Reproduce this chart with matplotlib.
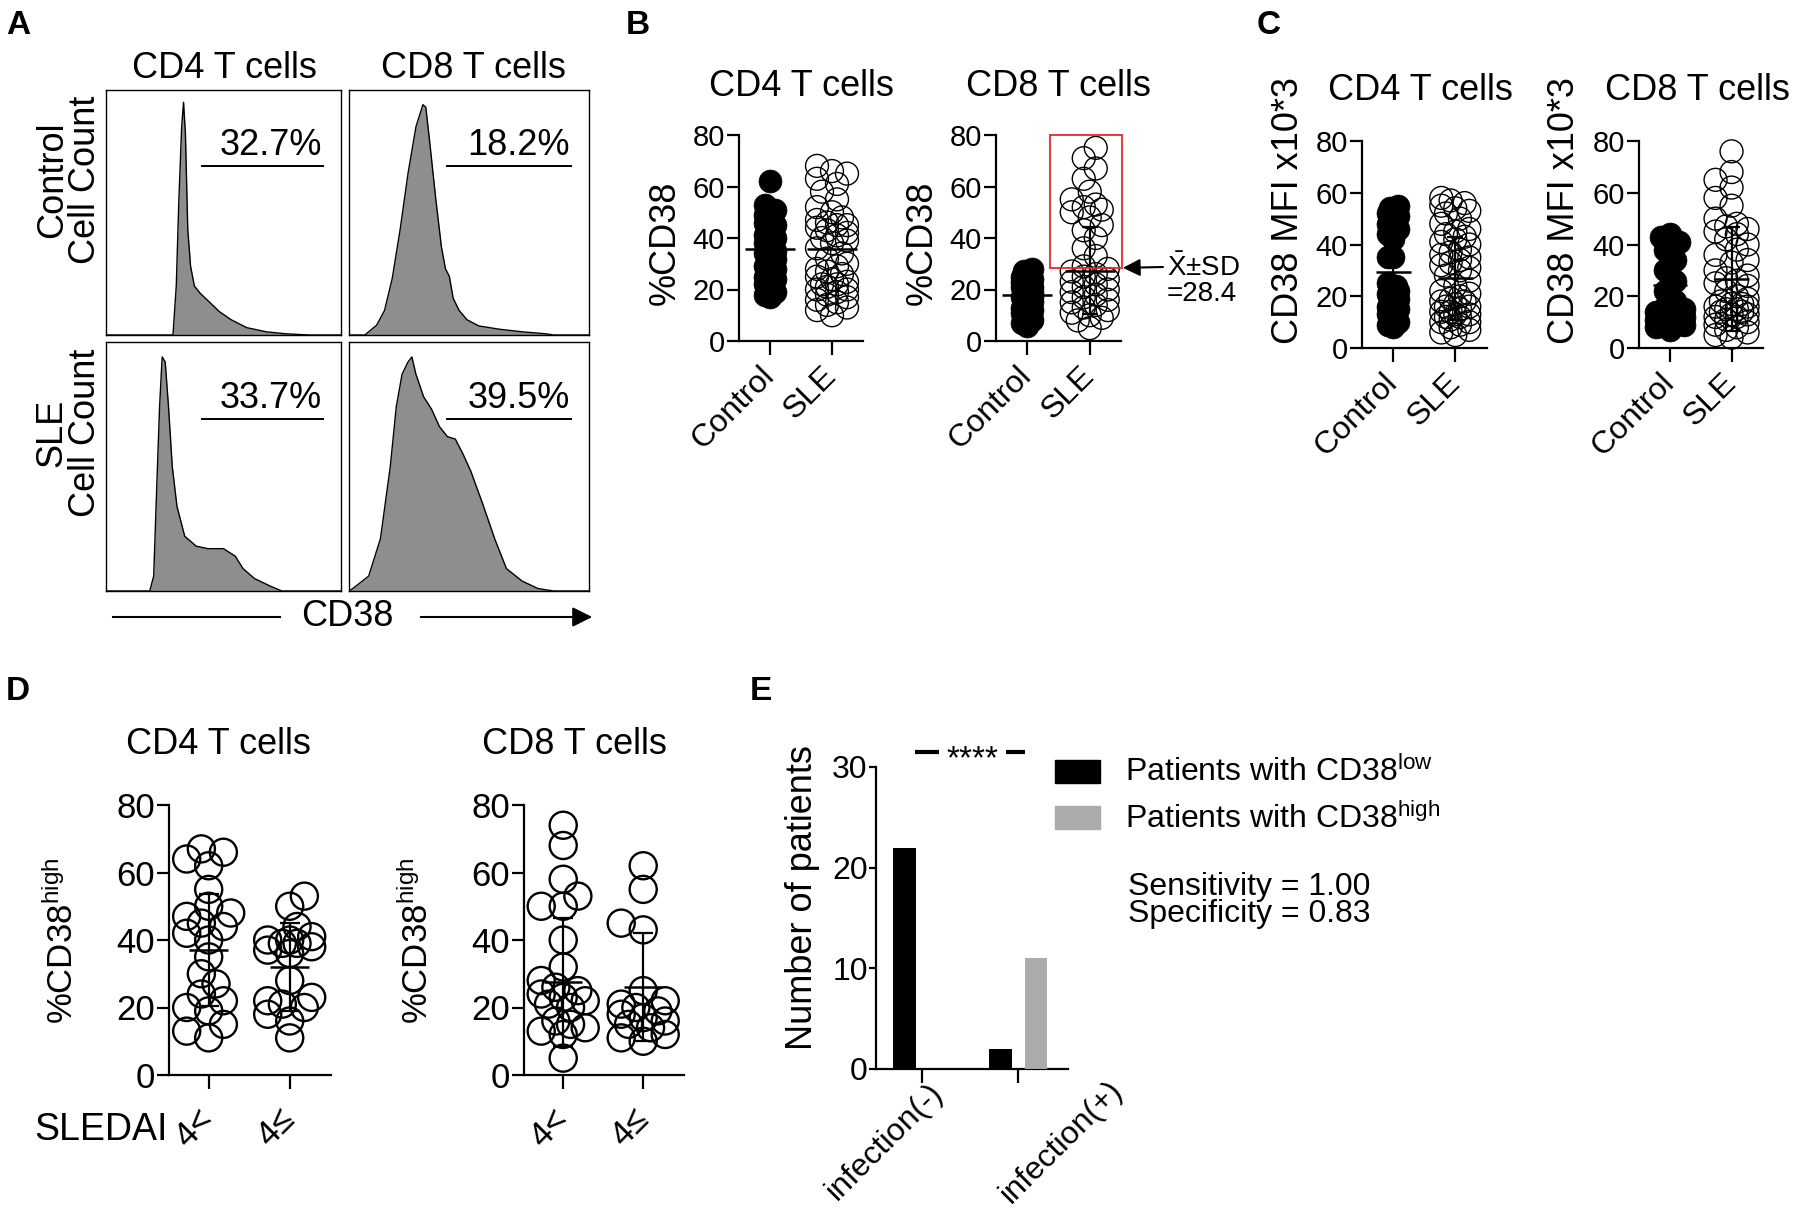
import numpy as np
import matplotlib
matplotlib.use("Agg")
import matplotlib.pyplot as plt
from matplotlib import font_manager
from matplotlib.patches import Rectangle, FancyArrowPatch
from matplotlib.lines import Line2D

installed = {f.name for f in font_manager.fontManager.ttflist}
SANS = "Liberation Sans" if "Liberation Sans" in installed else "DejaVu Sans"
plt.rcParams["font.family"] = [SANS, "DejaVu Sans"]
plt.rcParams["mathtext.fontset"] = "custom"
plt.rcParams["mathtext.rm"] = SANS
plt.rcParams["mathtext.it"] = SANS + ":italic"
plt.rcParams["mathtext.bf"] = SANS + ":bold"

W, H = 1800, 1223

# ---------------- data ----------------
# A: CD38 histograms (channel 0-100, relative cell count)
cd4_ctrl_ch = [0, 28.5, 29.9, 31.0, 32.2, 33.0, 33.8, 34.8, 36.0, 37.6, 40.1, 43.4, 48.3, 53.3, 59.9, 68.2, 76.4, 86.3, 100]
cd4_ctrl_cnt = [0, 0, 0.20, 0.55, 0.85, 0.95, 0.82, 0.43, 0.28, 0.20, 0.17, 0.14, 0.095, 0.062, 0.03, 0.013, 0.005, 0, 0]
cd8_ctrl_ch = [0, 6.6, 11.5, 14.8, 18.0, 21.3, 24.6, 27.9, 30.8, 32.0, 33.6, 36.1, 38.5, 40.2, 41.8, 43.4, 45.9, 49.2, 54.1, 62.3, 72.1, 82.0, 85.2, 100]
cd8_ctrl_cnt = [0, 0, 0.04, 0.10, 0.23, 0.43, 0.66, 0.85, 0.94, 0.93, 0.79, 0.56, 0.36, 0.27, 0.24, 0.15, 0.10, 0.062, 0.037, 0.024, 0.013, 0.005, 0, 0]
cd4_sle_ch = [0, 18.6, 20.3, 21.6, 22.8, 23.9, 25.2, 26.6, 28.2, 30.2, 33.5, 38.4, 43.4, 50.0, 55.0, 58.3, 63.2, 69.8, 74.8, 100]
cd4_sle_cnt = [0, 0, 0.06, 0.42, 0.74, 0.94, 0.92, 0.74, 0.50, 0.34, 0.22, 0.18, 0.17, 0.17, 0.14, 0.09, 0.05, 0.02, 0, 0]
cd8_sle_ch = [0, 1.6, 8.2, 13.1, 17.2, 19.7, 22.1, 24.6, 26.2, 27.9, 31.1, 34.4, 37.7, 41.0, 44.3, 47.5, 50.8, 55.7, 60.7, 65.6, 72.1, 78.7, 85.2, 100]
cd8_sle_cnt = [0, 0.01, 0.06, 0.21, 0.50, 0.74, 0.87, 0.92, 0.94, 0.87, 0.78, 0.73, 0.66, 0.62, 0.61, 0.55, 0.48, 0.35, 0.21, 0.09, 0.04, 0.01, 0, 0]
hist_pct = ["32.7%", "18.2%", "33.7%", "39.5%"]
gate = [41, 92.5]

groups = ["Control", "SLE"]

# B: %CD38
b_cd4_control = [62, 53, 51, 49, 48, 46, 45, 43, 42, 41, 40, 39, 38, 37, 36, 35, 34, 33, 32, 31, 30, 29, 28, 28, 27, 26, 25, 24, 23, 22, 21, 20, 19, 18, 17]
b_cd4_sle = [68, 66, 65, 63, 61, 58, 55, 52, 50, 48, 47, 46, 45, 45, 44, 43, 42, 41, 40, 39, 38, 36, 34, 32, 30, 29, 28, 27, 26, 25, 24, 23, 22, 22, 21, 20, 20, 19, 18, 17, 16, 15, 14, 13, 12, 10]
b_cd8_control = [28, 27, 26, 25, 24, 24, 23, 22, 21, 21, 20, 19, 19, 18, 18, 17, 17, 16, 15, 15, 14, 13, 12, 12, 11, 10, 9, 8, 7, 6]
b_cd8_sle = [75, 71, 67, 63, 58, 55, 53, 52, 51, 50, 48, 45, 43, 40, 36, 33, 29, 28, 27, 26, 25, 24, 23, 22, 21, 20, 19, 18, 17, 16, 15, 14, 13, 12, 11, 10, 9, 8, 5]
b_cd4_mean = [35.7, 35.7]
b_cd8_mean = [17.9, 27.3]
b_cd8_sd = [0, 17]
b_cutoff = 28.4

# C: CD38 MFI
c_cd4_control = [55, 54, 53, 52, 51, 50, 49, 48, 46, 44, 42, 35, 35, 25, 24, 23, 22, 21, 20, 19, 18, 17, 16, 15, 14, 13, 12, 11, 10, 9, 8]
c_cd4_sle = [58, 57, 56, 55, 54, 53, 52, 50, 48, 46, 45, 44, 43, 42, 41, 40, 38, 37, 36, 35, 34, 33, 32, 31, 30, 28, 26, 24, 22, 21, 20, 19, 18, 18, 17, 16, 16, 15, 14, 14, 13, 13, 12, 12, 11, 10, 10, 9, 8, 7, 6, 5]
c_cd8_control = [44, 43, 41, 38, 34, 30, 26, 22, 18, 16, 15, 14, 14, 13, 13, 12, 12, 12, 11, 11, 10, 9, 8, 7]
c_cd8_sle = [76, 68, 65, 62, 58, 55, 50, 48, 47, 46, 45, 44, 42, 40, 38, 36, 34, 33, 30, 28, 27, 26, 25, 24, 22, 20, 19, 18, 17, 17, 16, 16, 15, 15, 14, 14, 13, 13, 12, 12, 11, 10, 9, 8, 7, 6, 5, 4]
c_cd4_mean = [29.4, 27.0]
c_cd4_sd = [9.6, 16]
c_cd8_mean = [24.5, 26.7]
c_cd8_sd = [11, 20]

# D: %CD38high by SLEDAI
sledai_labels = ["4<", "4\u2264"]
d_cd4_low = [67, 66, 64, 62, 55, 50, 48, 47, 45, 44, 42, 40, 35, 30, 27, 24, 22, 20, 19, 15, 13, 11]
d_cd4_high = [53, 50, 44, 41, 40, 40, 39, 39, 38, 37, 36, 28, 23, 22, 21, 20, 18, 16, 11]
d_cd8_low = [74, 68, 58, 53, 50, 50, 40, 32, 28, 26, 25, 24, 23, 22, 21, 20, 16, 15, 14, 13, 12, 5]
d_cd8_high = [62, 55, 45, 43, 25, 22, 21, 20, 19, 18, 17, 16, 15, 14, 12, 11, 10]
d_cd4_mean = [37.0, 32.0]
d_cd4_sd = [16.7, 13.0]
d_cd8_mean = [27.6, 26.2]
d_cd8_sd = [18.9, 16.0]

# E: infection vs CD38 status
infection_labels = ["infection(-)", "infection(+)"]
cd38_low_counts = [22, 2]
cd38_high_counts = [0, 11]

fig = plt.figure(figsize=(W / 100, H / 100), dpi=100)


def add_ax(x0, y0, x1, y1):
    return fig.add_axes([x0 / W, 1 - y1 / H, (x1 - x0) / W, (y1 - y0) / H])


def ftext(x, y, s, **kw):
    return fig.text(x / W, 1 - y / H, s, **kw)


def swarm_x(vals, center, ppx, ppy, diam, maxw):
    vals = np.asarray(vals, dtype=float)
    cands = np.linspace(-maxw, maxw, 7)
    cands = cands[np.argsort(np.abs(cands), kind="stable")]
    px, py = [], []
    out = np.empty(len(vals))
    for i in np.argsort(vals, kind="stable"):
        y = vals[i] * ppy
        best, best_d = 0.0, -1.0
        for c in cands:
            d = np.min(np.hypot(np.array(px) - c, np.array(py) - y)) if px else np.inf
            if d >= 0.6 * diam:
                best = c
                break
            if d > best_d:
                best, best_d = c, d
        px.append(best)
        py.append(y)
        out[i] = center + best / ppx
    return out


def dot_axes(rect, xlim, ylim, yticks, ysize, ylen=9, xpad=3):
    ax = add_ax(*rect)
    ax.set_xlim(*xlim)
    ax.set_ylim(*ylim)
    ax.spines[["top", "right"]].set_visible(False)
    ax.spines[["left", "bottom"]].set_linewidth(1.6)
    ax.tick_params(direction="out", width=1.6, color="black")
    ax.tick_params(axis="y", length=ylen, pad=1, labelsize=ysize)
    ax.tick_params(axis="x", length=10, pad=xpad)
    ax.set_yticks(yticks)
    return ax


def dot_groups(ax, data, filled, means, sds, diam_pt, lw, maxw, half, cap):
    pos = ax.get_position()
    x0, x1 = ax.get_xlim()
    y0, y1 = ax.get_ylim()
    ppx = pos.width * W / (x1 - x0)
    ppy = pos.height * H / (y1 - y0)
    dpx = diam_pt * 100 / 72
    for i, vals in enumerate(data):
        xs = swarm_x(vals, i, ppx, ppy, dpx, maxw[i])
        fc = "black" if filled[i] else "none"
        ax.scatter(xs, vals, s=diam_pt ** 2, facecolors=fc, edgecolors="black",
                   linewidths=lw if not filled[i] else 0.5, clip_on=False, zorder=3)
        ax.plot([i - half, i + half], [means[i]] * 2, color="black", lw=1.8, zorder=4,
                solid_capstyle="butt")
        if sds is not None and sds[i] > 0:
            ax.errorbar([i], [means[i]], yerr=[sds[i]], fmt="none", ecolor="black",
                        elinewidth=1.6, capsize=cap, capthick=1.6, zorder=4)


# ---------------- panel A ----------------
ftext(6, 34, "A", fontsize=24, fontweight="bold", va="baseline")
ftext(224, 68, "CD4 T cells", fontsize=26, ha="center", va="center")
ftext(473, 68, "CD8 T cells", fontsize=26, ha="center", va="center")
ftext(69, 180, "Control\nCell Count", fontsize=26, rotation=90, ha="center", va="center",
      linespacing=0.95)
ftext(69, 433, "SLE\nCell Count", fontsize=26, rotation=90, ha="center", va="center",
      linespacing=0.95)

hists = [
    (cd4_ctrl_ch, cd4_ctrl_cnt, (106, 90, 341, 335)),
    (cd8_ctrl_ch, cd8_ctrl_cnt, (349, 90, 589, 335)),
    (cd4_sle_ch, cd4_sle_cnt, (106, 342, 341, 591)),
    (cd8_sle_ch, cd8_sle_cnt, (349, 342, 589, 591)),
]
for (ch, cnt, rect), pct in zip(hists, hist_pct):
    ax = add_ax(*rect)
    ax.fill_between(ch, cnt, color="#8e8e8e", lw=0)
    ax.plot(ch, cnt, color="black", lw=1.0)
    ax.set_xlim(0, 100)
    ax.set_ylim(0, 1)
    ax.set_xticks([])
    ax.set_yticks([])
    for sp in ax.spines.values():
        sp.set_linewidth(1.0)
    ax.plot(gate, [0.69, 0.69], color="black", lw=1.4)
    ax.text(gate[1] - 0.5, 0.775, pct, fontsize=26, ha="right", va="center")

fig.add_artist(Line2D([113 / W, 280 / W], [1 - 617 / H] * 2, color="black", lw=1.5))
fig.add_artist(FancyArrowPatch((418 / W, 1 - 617 / H), (595 / W, 1 - 617 / H),
                               transform=fig.transFigure, arrowstyle="-|>",
                               mutation_scale=30, color="black", lw=1.5))
ftext(347, 617, "CD38", fontsize=26, ha="center", va="center")

# ---------------- panel B ----------------
ftext(626, 34, "B", fontsize=24, fontweight="bold", va="baseline")
b_axes = [(739, 135, 863, 341), (996, 135, 1121, 341)]
b_data = [[b_cd4_control, b_cd4_sle], [b_cd8_control, b_cd8_sle]]
b_means = [b_cd4_mean, b_cd8_mean]
b_sds = [None, b_cd8_sd]
b_maxw = [[5, 15], [5, 18]]
for k, (rect, title) in enumerate(zip(b_axes, ["CD4 T cells", "CD8 T cells"])):
    ax = dot_axes(rect, (-0.5, 1.5), (0, 80), [0, 20, 40, 60, 80], 21, xpad=12)
    dot_groups(ax, b_data[k], [True, False], b_means[k], b_sds[k], 16.5, 1.0, b_maxw[k], 0.4, 6)
    ax.set_xticks([0, 1], labels=groups, rotation=45, ha="right", va="center",
                  rotation_mode="anchor", fontsize=23)
    cx = (rect[0] + rect[2]) / 2
    ftext(cx, 86, title, fontsize=26, ha="center", va="center")
    ftext(rect[0] - 74, 243, "%CD38", fontsize=26, rotation=90, ha="center", va="center")
    if k == 1:
        ax.add_patch(Rectangle((0.37, b_cutoff), 1.15, 80 - b_cutoff, fill=False,
                               edgecolor="#e8262a", lw=1.3, clip_on=False, zorder=5))
        ax.annotate("", xy=(1.53, b_cutoff), xycoords="data",
                    xytext=(1163 / W, 1 - 267 / H), textcoords="figure fraction",
                    annotation_clip=False,
                    arrowprops=dict(arrowstyle="-|>", color="black", lw=1.5, mutation_scale=26,
                                    shrinkA=0, shrinkB=0))
ftext(1167, 268, r"$\bar{\mathrm{X}}$" + "\u00b1SD", fontsize=20, ha="left", va="center")
ftext(1167, 294, "=" + str(b_cutoff), fontsize=20, ha="left", va="center")

# ---------------- panel C ----------------
ftext(1257, 34, "C", fontsize=24, fontweight="bold", va="baseline")
c_axes = [(1362, 141, 1487, 348), (1639, 141, 1763, 348)]
c_data = [[c_cd4_control, c_cd4_sle], [c_cd8_control, c_cd8_sle]]
c_means = [c_cd4_mean, c_cd8_mean]
c_sds = [c_cd4_sd, c_cd8_sd]
c_maxw = [[5, 14], [14, 16]]
c_titles_x = [1420, 1697]
for k, (rect, title) in enumerate(zip(c_axes, ["CD4 T cells", "CD8 T cells"])):
    ax = dot_axes(rect, (-0.5, 1.51), (0, 80), [0, 20, 40, 60, 80], 21, xpad=12)
    dot_groups(ax, c_data[k], [True, False], c_means[k], c_sds[k], 16.5, 1.0, c_maxw[k], 0.28, 6)
    ax.set_xticks([0, 1], labels=groups, rotation=45, ha="right", va="center",
                  rotation_mode="anchor", fontsize=23)
    ftext(c_titles_x[k], 91, title, fontsize=26, ha="center", va="center")
    ftext(rect[0] - 74, 211, "CD38 MFI x10*3", fontsize=26, rotation=90, ha="center",
          va="center")

# ---------------- panel D ----------------
ftext(6, 700, "D", fontsize=24, fontweight="bold", va="baseline")
d_axes = [(169, 805, 331, 1075), (524, 805, 684, 1075)]
d_data = [[d_cd4_low, d_cd4_high], [d_cd8_low, d_cd8_high]]
d_means = [d_cd4_mean, d_cd8_mean]
d_sds = [d_cd4_sd, d_cd8_sd]
d_titles_x = [218, 574]
for k, (rect, title) in enumerate(zip(d_axes, ["CD4 T cells", "CD8 T cells"])):
    ax = dot_axes(rect, (-0.49, 1.51), (0, 80), [0, 20, 40, 60, 80], 25, xpad=18)
    dot_groups(ax, d_data[k], [False, False], d_means[k], d_sds[k], 19.5, 1.7, [22, 22], 0.24, 7)
    ax.set_xticks([0, 1], labels=sledai_labels, rotation=45, ha="right", va="center",
                  rotation_mode="anchor", fontsize=25)
    ftext(d_titles_x[k], 744, title, fontsize=26, ha="center", va="center")
    ftext(rect[0] - 107, 941, "%CD38$^{\\mathrm{high}}$", fontsize=25, rotation=90,
          ha="center", va="center")
ftext(34, 1140, "SLEDAI", fontsize=27, ha="left", va="baseline")

# ---------------- panel E ----------------
ftext(750, 700, "E", fontsize=24, fontweight="bold", va="baseline")
ax = dot_axes((876, 767, 1068, 1069), (-0.48, 1.52), (0, 30), [0, 10, 20, 30], 23, ylen=5)
xpos = np.arange(len(infection_labels))
ax.bar(xpos - 0.185, cd38_low_counts, width=0.235, color="black", zorder=3)
ax.bar(xpos + 0.185, cd38_high_counts, width=0.235, color="#aaabad", zorder=3)
ax.set_xticks(xpos, labels=["", ""])
for x, lab, off in zip(xpos, infection_labels, [-0.39, 0.45]):
    ax.text(x + off, -0.24, lab, transform=ax.get_xaxis_transform(), fontsize=23,
            rotation=45, ha="center", va="center")
ax.plot([-0.07, 0.18], [31.5, 31.5], color="black", lw=3, clip_on=False, solid_capstyle="butt")
ax.plot([0.875, 1.07], [31.5, 31.5], color="black", lw=3, clip_on=False, solid_capstyle="butt")
ax.text(0.53, 29.9, "****", fontsize=24, ha="center", va="baseline")
ftext(803, 898, "Number of patients", fontsize=26, rotation=90, ha="center", va="center")

fig.add_artist(Rectangle((1055 / W, 1 - 783 / H), 45 / W, 23 / H, transform=fig.transFigure,
                         color="black"))
fig.add_artist(Rectangle((1055 / W, 1 - 829 / H), 45 / W, 23 / H, transform=fig.transFigure,
                         color="#aaabad"))
ftext(1125, 781, r"Patients with CD38$^{\mathrm{low}}$", fontsize=23, va="baseline")
ftext(1125, 828, r"Patients with CD38$^{\mathrm{high}}$", fontsize=23, va="baseline")
ftext(1128, 895, "Sensitivity = 1.00", fontsize=23, va="baseline")
ftext(1128, 922, "Specificity = 0.83", fontsize=23, va="baseline")

fig.savefig("out.png", dpi=100)
